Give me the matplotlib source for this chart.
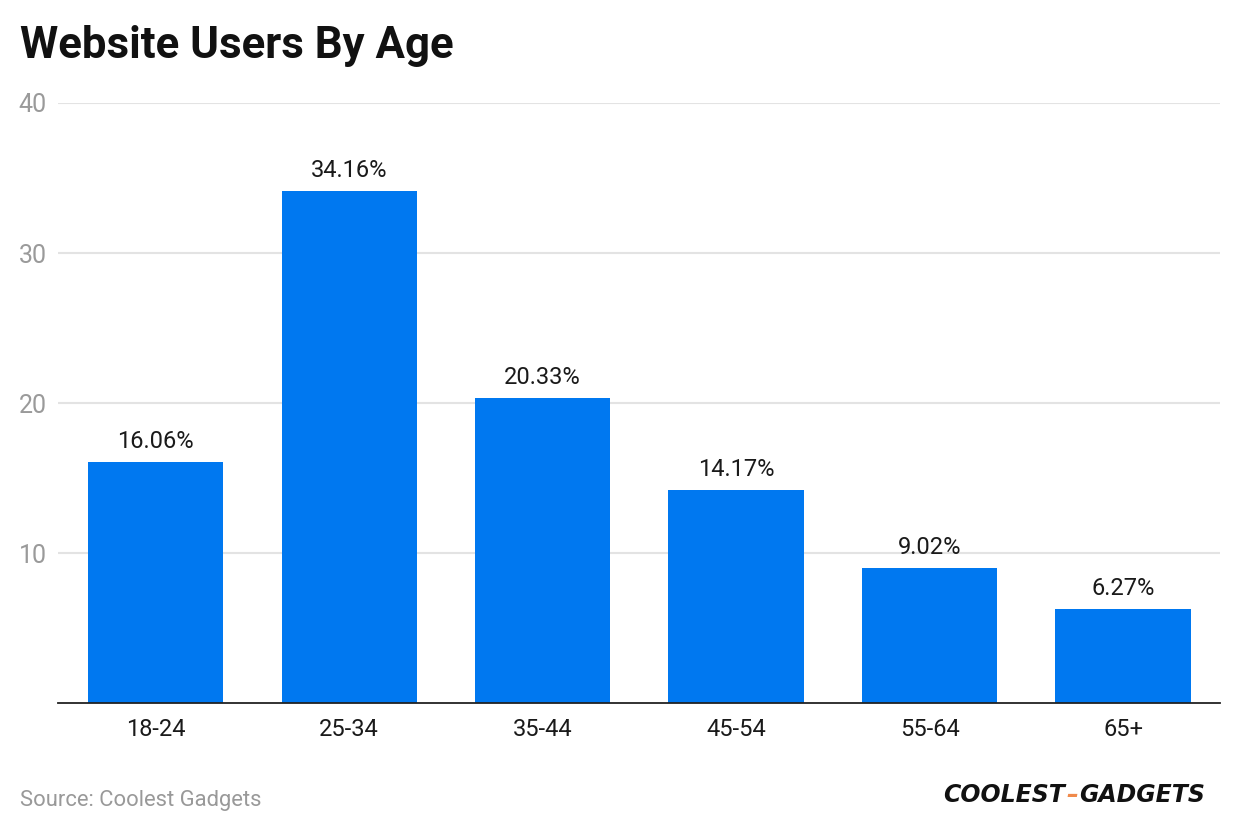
import matplotlib
matplotlib.use("Agg")
import matplotlib.pyplot as plt

ages = ["18-24", "25-34", "35-44", "45-54", "55-64", "65+"]
users_pct = [16.06, 34.16, 20.33, 14.17, 9.02, 6.27]
y_ticks = [10, 20, 30, 40]

BLUE = "#0078F0"
plt.rcParams["font.family"] = ["Roboto", "DejaVu Sans"]

fig = plt.figure(figsize=(12.4, 8.34), dpi=100)
ax = fig.add_axes([0.0468, 0.157, 0.937, 0.7195])

x = range(len(ages))
ax.bar(x, users_pct, width=0.70, color=BLUE, zorder=3)
for xi, v in zip(x, users_pct):
    ax.text(xi, v + 0.6, f"{v:.2f}%", ha="center", va="bottom",
            fontsize=17, color="#1a1a1a")

ax.set_xlim(-0.505, 5.5)
ax.set_ylim(0, 40)
ax.set_xticks(list(x))
ax.set_xticklabels(ages, fontsize=17, color="#1a1a1a")
ax.set_yticks(y_ticks)
ax.set_yticklabels([str(t) for t in y_ticks], fontsize=18, color="#9a9a9a")
ax.tick_params(axis="both", length=0)
ax.tick_params(axis="x", pad=11)
ax.tick_params(axis="y", pad=8)
ax.grid(axis="y", color="#e3e3e3", linewidth=1.5, zorder=0)
for side in ("left", "right", "top"):
    ax.spines[side].set_visible(False)
ax.spines["bottom"].set_color("#222222")
ax.spines["bottom"].set_linewidth(1.3)
ax.spines["bottom"].set_zorder(4)

fig.text(0.016, 0.945, "Website Users By Age", fontsize=31.5, fontweight="bold",
         color="#111111", va="center", ha="left")
fig.text(0.016, 0.04, "Source: Coolest Gadgets", fontsize=15.8,
         color="#999999", va="center", ha="left")

# logo stand-in: chain three pieces side by side
logo_kw = dict(fontsize=17, fontweight="heavy", fontstyle="italic",
               va="center", ha="left", family=["DejaVu Sans"])
renderer = fig.canvas.get_renderer()
xpos = 943 / 1240
for piece, col in [("COOLEST", "#111111"), ("–", "#F08A4B"), ("GADGETS", "#111111")]:
    t = fig.text(xpos, 0.047, piece, color=col, **logo_kw)
    bb = t.get_window_extent(renderer)
    xpos += bb.width / 1240 + 0.001

fig.savefig("out.png", dpi=100)
